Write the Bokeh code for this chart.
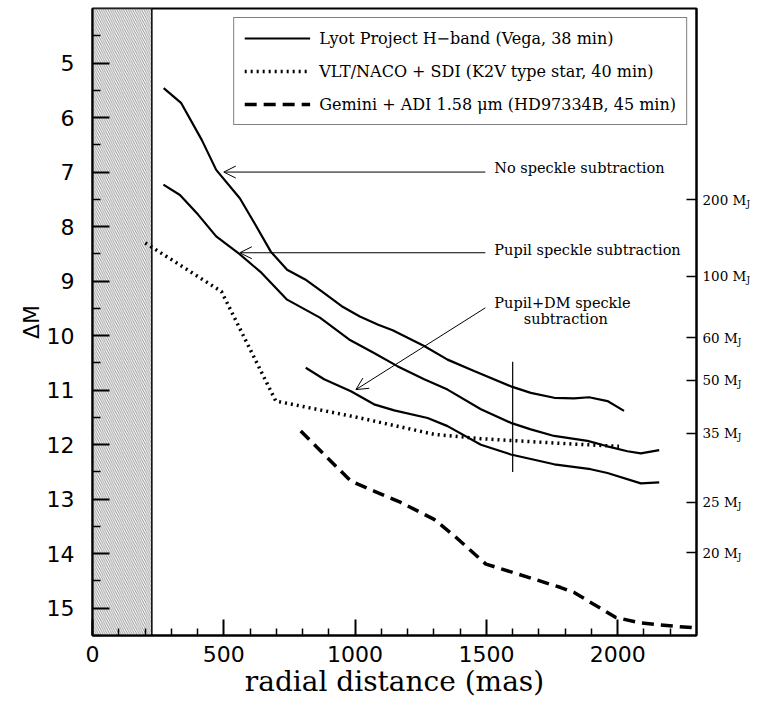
from bokeh.plotting import figure
from bokeh.layouts import row
from bokeh.models import (Range1d, FixedTicker, LinearAxis, Legend, LegendItem,
                          Arrow, OpenHead, CustomLabelingPolicy)
from bokeh.core.properties import value
from bokeh.embed import file_html
from bokeh.resources import INLINE

# ---------------- data ----------------
x_start, x_end = 0, 2300
y_bottom, y_top = 15.5, 4.0
coronagraph_edge = 226  # mas, hatched region

x_ticks = [0, 500, 1000, 1500, 2000]
x_minor = [100, 200, 300, 400, 600, 700, 800, 900, 1100, 1200, 1300, 1400,
           1600, 1700, 1800, 1900, 2100, 2200]
y_ticks = [5, 6, 7, 8, 9, 10, 11, 12, 13, 14, 15]
y_minor = [4.5, 5.5, 6.5, 7.5, 8.5, 9.5, 10.5, 11.5, 12.5, 13.5, 14.5, 15.5]

# Lyot Project H-band: no speckle subtraction
nosub_x = [271, 337, 416, 471, 561, 617, 679, 741, 810, 873, 949, 1018, 1088,
           1143, 1200, 1263, 1352, 1453, 1593, 1669, 1758, 1834, 1891, 1961, 2024]
nosub_y = [5.46, 5.73, 6.41, 6.96, 7.48, 7.94, 8.46, 8.79, 8.97, 9.19, 9.46,
           9.65, 9.80, 9.90, 10.04, 10.19, 10.44, 10.65, 10.93, 11.05, 11.14,
           11.15, 11.13, 11.20, 11.38]
# pupil speckle subtraction
pupil_x = [270, 333, 402, 471, 554, 644, 741, 866, 977, 1072, 1161, 1263, 1352,
           1479, 1593, 1669, 1758, 1885, 1961, 2037, 2088, 2158]
pupil_y = [7.23, 7.42, 7.78, 8.18, 8.48, 8.85, 9.34, 9.67, 10.07, 10.32, 10.56,
           10.80, 10.99, 11.35, 11.60, 11.72, 11.84, 11.93, 12.03, 12.12, 12.16,
           12.10]
# pupil + DM speckle subtraction
pupdm_x = [812, 882, 984, 1072, 1149, 1276, 1352, 1479, 1593, 1758, 1897, 1961,
           2088, 2158]
pupdm_y = [10.59, 10.80, 11.02, 11.26, 11.37, 11.51, 11.66, 12.00, 12.18, 12.36,
           12.45, 12.52, 12.71, 12.69]
# VLT/NACO + SDI
vlt_x = [201, 491, 698, 1009, 1301, 1479, 1618, 1834, 2005]
vlt_y = [8.30, 9.19, 11.20, 11.50, 11.81, 11.89, 11.93, 11.99, 12.03]
# Gemini + ADI
gem_x = [793, 984, 1072, 1174, 1301, 1377, 1498, 1618, 1783, 1834, 1910, 1993,
         2088, 2215, 2300]
gem_y = [11.75, 12.67, 12.85, 13.06, 13.37, 13.67, 14.19, 14.37, 14.62, 14.71,
         14.93, 15.17, 15.27, 15.33, 15.36]

# vertical bar at 1600 mas
bar_x = 1600
bar_y = [10.48, 12.50]

# mass scale on the right
mass_labels = [200, 100, 60, 50, 35, 25, 20]
mass_dm = [7.51, 8.91, 10.04, 10.82, 11.79, 13.06, 13.98]

# annotations
note_text = ["No speckle subtraction", "Pupil speckle subtraction",
             "Pupil+DM speckle", "subtraction"]
note_x = [1530, 1530, 1530, 1642]
note_y = [6.93, 8.43, 9.40, 9.70]
arrow_tail_x = [1496, 1496, 1496]
arrow_tail_y = [7.00, 8.48, 9.49]
arrow_tip_x = [500, 561, 1003]
arrow_tip_y = [7.00, 8.48, 10.99]

legend_labels = ["Lyot Project H\u2212band (Vega, 38 min)",
                 "VLT/NACO + SDI (K2V type star, 40 min)",
                 "Gemini + ADI 1.58 \u03bcm (HD97334B, 45 min)"]

# ---------------- main figure ----------------
FRAME_H = 627
p = figure(frame_width=604, frame_height=FRAME_H,
           x_range=Range1d(x_start, x_end), y_range=Range1d(y_bottom, y_top),
           output_backend="svg", toolbar_location=None,
           min_border_left=92, min_border_right=2, min_border_top=8,
           min_border_bottom=70,
           background_fill_color="white", border_fill_color="white")
p.grid.visible = False
p.outline_line_color = "black"
p.outline_line_width = 2

# hatched coronagraph region
p.quad(left=[x_start], right=[coronagraph_edge], bottom=[y_bottom], top=[y_top],
       fill_color="white", hatch_pattern="\\", hatch_scale=4.5, hatch_weight=0.6,
       hatch_color="#444444", line_color="black", line_width=1.5)

lw = 2.2
r_a = p.line(nosub_x, nosub_y, line_color="black", line_width=lw)
r_b = p.line(pupil_x, pupil_y, line_color="black", line_width=lw)
r_c = p.line(pupdm_x, pupdm_y, line_color="black", line_width=lw)
r_v = p.line(vlt_x, vlt_y, line_color="black", line_width=3.5, line_dash="2 4")
r_g = p.line(gem_x, gem_y, line_color="black", line_width=3.5, line_dash="12 7")
p.segment(x0=[bar_x], y0=[bar_y[0]], x1=[bar_x], y1=[bar_y[1]],
          line_color="black", line_width=1.2)

# annotations
p.text(x=note_x, y=note_y, text=note_text, text_font=value("DejaVu Serif"),
       text_font_size="14.5px", text_baseline="middle", text_align="left",
       text_color="black")
for xs, ys, xe, ye in zip(arrow_tail_x, arrow_tail_y, arrow_tip_x, arrow_tip_y):
    p.add_layout(Arrow(end=OpenHead(size=12, line_width=1, line_color="black"),
                       x_start=xs, y_start=ys, x_end=xe, y_end=ye,
                       line_width=1, line_color="black"))

# axes
ax = p.xaxis[0]
ax.ticker = FixedTicker(ticks=x_ticks, minor_ticks=x_minor)
ay = p.yaxis[0]
ay.ticker = FixedTicker(ticks=y_ticks, minor_ticks=y_minor)
for a in (ax, ay):
    a.axis_line_width = 2
    a.major_tick_out = 0
    a.minor_tick_out = 0
    a.major_tick_line_width = 2
    a.minor_tick_line_width = 1.5
    a.major_label_text_color = "black"
    a.axis_label_text_font_style = "normal"
    a.axis_label_text_color = "black"
ax.major_tick_in = 16
ax.minor_tick_in = 7
ay.major_tick_in = 17
ay.minor_tick_in = 8
ax.major_label_text_font = "DejaVu Sans"
ax.major_label_text_font_size = "22px"
ax.major_label_standoff = 10
ax.axis_label = "radial distance (mas)"
ax.axis_label_text_font = "DejaVu Serif"
ax.axis_label_text_font_size = "28px"
ax.axis_label_standoff = 0
ay.major_label_text_font = "DejaVu Sans"
ay.major_label_text_font_size = "22px"
ay.major_label_standoff = 18
ay.axis_label = "\u0394M"
ay.axis_label_text_font = "DejaVu Sans"
ay.axis_label_text_font_size = "22px"
ay.axis_label_standoff = 0

# right-hand mass axis: inward ticks only (labels drawn in the side panel)
no_labels = CustomLabelingPolicy(code="""
    for (const i of indices) indices.unset(i)
    return indices
""")
r_axis = LinearAxis(ticker=FixedTicker(ticks=mass_dm, minor_ticks=[]),
                    major_tick_in=10, major_tick_out=0, axis_line_width=2,
                    major_tick_line_width=1.5, major_label_standoff=0,
                    major_label_policy=no_labels,
                    major_label_overrides={v: "" for v in mass_dm})
p.add_layout(r_axis, "right")

# legend
legend = Legend(items=[LegendItem(label=legend_labels[0], renderers=[r_a]),
                       LegendItem(label=legend_labels[1], renderers=[r_v]),
                       LegendItem(label=legend_labels[2], renderers=[r_g])],
                location="top_right", margin=9, padding=10, spacing=13,
                glyph_width=66, glyph_height=20, label_height=20,
                label_standoff=9, label_text_font="DejaVu Serif",
                label_text_font_size="16px", label_text_color="black",
                border_line_color="black", border_line_width=1.5,
                background_fill_color="white", background_fill_alpha=1.0)
p.add_layout(legend)

# ---------------- side panel with mass labels (shares the y scale) ----------------
fs_main = 13.5
char_w = {"d": 0.636, " ": 0.318, "M": 0.99}
side = figure(frame_width=58, frame_height=FRAME_H,
              x_range=Range1d(0, 1), y_range=p.y_range,
              output_backend="svg", toolbar_location=None,
              x_axis_location=None, y_axis_location=None,
              min_border_left=0, min_border_right=0, min_border_top=8,
              min_border_bottom=70,
              background_fill_color="white", border_fill_color="white")
side.grid.visible = False
side.outline_line_color = None
side.text(x=[0] * len(mass_labels), y=mass_dm,
          text=[f"{m} M" for m in mass_labels], x_offset=4,
          text_font=value("DejaVu Serif"), text_font_size=f"{fs_main}px",
          text_baseline="middle", text_align="left", text_color="black")
side.text(x=[0] * len(mass_labels), y=mass_dm, text=["J"] * len(mass_labels),
          x_offset=[4 + fs_main * (len(str(m)) * char_w["d"] + char_w[" "]
                                   + char_w["M"]) + 0.5 for m in mass_labels],
          y_offset=4, text_font=value("DejaVu Serif"), text_font_size="9px",
          text_baseline="middle", text_align="left", text_color="black")

layout = row(p, side)
open("out.html", "w").write(file_html(layout, INLINE))
